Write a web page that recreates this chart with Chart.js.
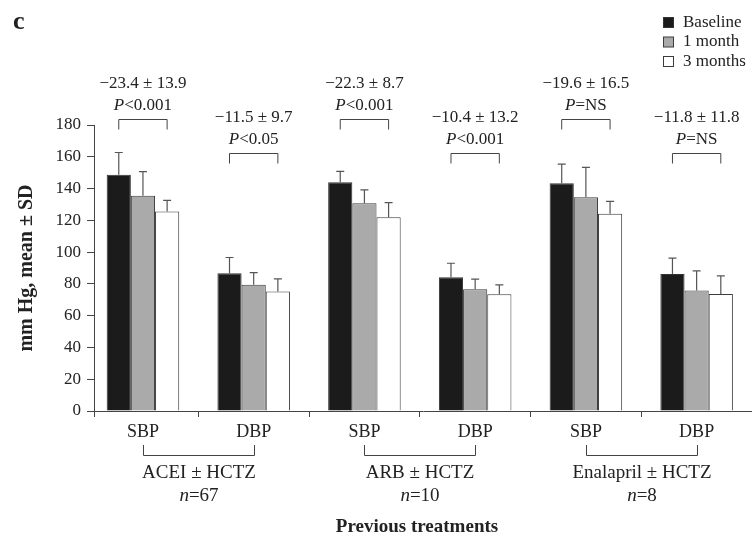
<!DOCTYPE html>
<html>
<head>
<meta charset="utf-8">
<script src="https://cdn.jsdelivr.net/npm/chart.js@4.4.1/dist/chart.umd.min.js"></script>
<style>
    body { margin: 0; background: #fff; }
    #wrap { width: 752px; height: 539px; }
</style>
</head>
<body>
<div id="wrap"><canvas id="myChart" width="752" height="539"></canvas></div>
<script>
//--- data
var categories = ['SBP', 'DBP', 'SBP', 'DBP', 'SBP', 'DBP'];
var baseline = [148.7, 86.7, 144.0, 84.2, 143.4, 86.3];
var month1 = [135.4, 79.4, 130.8, 76.6, 134.6, 75.8];
var month3 = [125.5, 75.2, 122.0, 73.5, 124.1, 73.7];
var baselineSD = [14.0, 9.9, 6.8, 8.8, 12.0, 9.9];
var month1SD = [15.3, 7.7, 8.4, 6.4, 18.7, 12.4];
var month3SD = [7.0, 8.0, 9.2, 5.9, 7.8, 11.3];
var changes = ['\u221223.4 \u00b1 13.9', '\u221211.5 \u00b1 9.7', '\u221222.3 \u00b1 8.7', '\u221210.4 \u00b1 13.2', '\u221219.6 \u00b1 16.5', '\u221211.8 \u00b1 11.8'];
var pvalues = ['<0.001', '<0.05', '<0.001', '<0.001', '=NS', '=NS'];
var treatments = ['ACEI \u00b1 HCTZ', 'ARB \u00b1 HCTZ', 'Enalapril \u00b1 HCTZ'];
var treatmentN = ['67', '10', '8'];
var yTicks = [0, 20, 40, 60, 80, 100, 120, 140, 160, 180];

var FONT = '"Liberation Serif", "DejaVu Serif", serif';
var INK = '#222';
var LINE = '#444';

function pts(arr) {
    return arr.map(function (v, i) { return { x: i, y: v }; });
}

// error bars (upper only) + cap
var errorBars = {
    id: 'errorBars',
    afterDatasetsDraw: function (chart) {
        var ctx = chart.ctx;
        var y = chart.scales.y;
        ctx.save();
        ctx.strokeStyle = '#555';
        ctx.lineWidth = 1.2;
        chart.data.datasets.forEach(function (ds, di) {
            var meta = chart.getDatasetMeta(di);
            meta.data.forEach(function (bar, i) {
                var top = y.getPixelForValue(ds.data[i].y + ds.sd[i]);
                ctx.beginPath();
                ctx.moveTo(bar.x, bar.y);
                ctx.lineTo(bar.x, top);
                ctx.moveTo(bar.x - 4, top);
                ctx.lineTo(bar.x + 4, top);
                ctx.stroke();
            });
        });
        ctx.restore();
    }
};

function italicPrefix(ctx, prefix, rest, cx, cy, size) {
    ctx.font = 'italic ' + size + 'px ' + FONT;
    var w1 = ctx.measureText(prefix).width;
    ctx.font = size + 'px ' + FONT;
    var w2 = ctx.measureText(rest).width;
    var x0 = cx - (w1 + w2) / 2;
    ctx.textAlign = 'left';
    ctx.font = 'italic ' + size + 'px ' + FONT;
    ctx.fillText(prefix, x0, cy);
    ctx.font = size + 'px ' + FONT;
    ctx.fillText(rest, x0 + w1, cy);
}

// brackets, changes, p values, treatment groups, legend
var annotations = {
    id: 'annotations',
    afterDraw: function (chart) {
        var ctx = chart.ctx;
        var x = chart.scales.x;
        var y = chart.scales.y;
        var first = chart.getDatasetMeta(0).data;
        var last = chart.getDatasetMeta(2).data;
        var area = chart.chartArea;
        ctx.save();
        ctx.fillStyle = INK;
        ctx.strokeStyle = LINE;
        ctx.lineWidth = 1;
        ctx.textBaseline = 'middle';

        // y axis runs a little below the x axis
        ctx.beginPath();
        ctx.moveTo(area.left + 0.5, area.bottom);
        ctx.lineTo(area.left + 0.5, area.bottom + 6);
        ctx.stroke();

        categories.forEach(function (c, i) {
            var level = (c === 'SBP') ? 184 : 162.5;
            var by = Math.round(y.getPixelForValue(level)) + 0.5;
            var x1 = first[i].x, x2 = last[i].x;
            ctx.beginPath();
            ctx.moveTo(x1, by + 10);
            ctx.lineTo(x1, by);
            ctx.lineTo(x2, by);
            ctx.lineTo(x2, by + 10);
            ctx.stroke();
            var cx = x.getPixelForValue(i);
            ctx.textAlign = 'center';
            ctx.font = '17px ' + FONT;
            ctx.fillText(changes[i], cx, by - 36);
            italicPrefix(ctx, 'P', pvalues[i], cx, by - 14, 17);
        });

        treatments.forEach(function (t, g) {
            var xa = Math.round(x.getPixelForValue(g * 2)) + 0.5;
            var xb = Math.round(x.getPixelForValue(g * 2 + 1)) + 0.5;
            ctx.beginPath();
            ctx.moveTo(xa, 445);
            ctx.lineTo(xa, 455.5);
            ctx.lineTo(xb, 455.5);
            ctx.lineTo(xb, 445);
            ctx.stroke();
            var cx = (xa + xb) / 2;
            ctx.textAlign = 'center';
            ctx.font = '19px ' + FONT;
            ctx.fillText(t, cx, 473);
            italicPrefix(ctx, 'n', '=' + treatmentN[g], cx, 496, 19);
        });

        ctx.textAlign = 'center';
        ctx.font = 'bold 19px ' + FONT;
        ctx.fillText('Previous treatments', (area.left + area.right) / 2 - 6, 527);

        ctx.textAlign = 'left';
        ctx.font = 'bold 26px ' + FONT;
        ctx.fillText('c', 13, 22);

        // legend
        chart.data.datasets.forEach(function (ds, di) {
            var ly = 22.5 + di * 19.5;
            ctx.fillStyle = ds.backgroundColor;
            ctx.fillRect(663.5, ly - 5, 10, 10);
            ctx.strokeStyle = ds.borderColor;
            ctx.strokeRect(663.5, ly - 5, 10, 10);
            ctx.fillStyle = INK;
            ctx.font = '17px ' + FONT;
            ctx.fillText(ds.label, 683, ly);
        });
        ctx.restore();
    }
};

var ctx = document.getElementById('myChart');
var chart = new Chart(ctx, {
    type: 'bar',
    data: {
        datasets: [{
            label: 'Baseline',
            data: pts(baseline),
            sd: baselineSD,
            backgroundColor: '#1b1b1b',
            borderColor: '#333',
            borderWidth: 1
        }, {
            label: '1 month',
            data: pts(month1),
            sd: month1SD,
            backgroundColor: '#aaaaaa',
            borderColor: '#3c3c3c',
            borderWidth: 1
        }, {
            label: '3 months',
            data: pts(month3),
            sd: month3SD,
            backgroundColor: '#ffffff',
            borderColor: '#3c3c3c',
            borderWidth: 1
        }]
    },
    options: {
        responsive: false,
        animation: false,
        layout: { padding: { top: 125, left: 0, right: 0, bottom: 0 } },
        categoryPercentage: 0.655,
        barPercentage: 1.0,
        plugins: {
            legend: { display: false },
            tooltip: { enabled: false }
        },
        scales: {
            x: {
                type: 'linear',
                offset: false,
                min: -0.442,
                max: 5.5,
                afterFit: function (scale) { scale.height = 128; },
                afterBuildTicks: function (scale) {
                    scale.ticks = categories.map(function (c, i) { return { value: i }; });
                },
                ticks: {
                    color: INK,
                    font: { family: FONT, size: 18 },
                    padding: 4,
                    maxRotation: 0,
                    autoSkip: false,
                    callback: function (v) { return categories[v]; }
                },
                grid: {
                    offset: true,
                    drawOnChartArea: false,
                    tickLength: 6,
                    color: LINE
                },
                border: { color: LINE, width: 1 }
            },
            y: {
                min: 0,
                max: 180,
                afterFit: function (scale) { scale.width = 94; },
                afterBuildTicks: function (scale) {
                    scale.ticks = yTicks.map(function (v) { return { value: v }; });
                },
                ticks: {
                    color: INK,
                    font: { family: FONT, size: 17 },
                    padding: 6
                },
                grid: {
                    drawOnChartArea: false,
                    tickLength: 7,
                    color: LINE
                },
                border: { color: LINE, width: 1 },
                title: {
                    display: true,
                    text: 'mm Hg, mean \u00b1 SD',
                    color: INK,
                    font: { family: FONT, size: 20, weight: 'bold' },
                    padding: { top: 15, bottom: 0 }
                }
            }
        }
    },
    plugins: [errorBars, annotations]
});
</script>
</body>
</html>
